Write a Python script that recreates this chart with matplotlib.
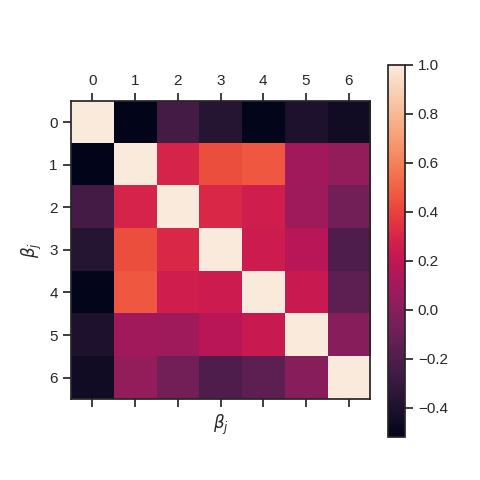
import numpy as np
import matplotlib
matplotlib.use("Agg")
import matplotlib.pyplot as plt
import seaborn as sns

sns.set_theme(style="ticks")
plt.rcParams["font.family"] = ["Liberation Sans", "DejaVu Sans"]

labels = ["0", "1", "2", "3", "4", "5", "6"]
row0 = [1.00, -0.52, -0.25, -0.37, -0.51, -0.40, -0.45]
row1 = [-0.52, 1.00, 0.29, 0.44, 0.47, 0.09, 0.04]
row2 = [-0.25, 0.29, 1.00, 0.31, 0.26, 0.08, -0.07]
row3 = [-0.37, 0.44, 0.31, 1.00, 0.25, 0.17, -0.20]
row4 = [-0.51, 0.47, 0.26, 0.25, 1.00, 0.23, -0.15]
row5 = [-0.40, 0.09, 0.08, 0.17, 0.23, 1.00, 0.00]
row6 = [-0.45, 0.04, -0.07, -0.20, -0.15, 0.00, 1.00]

corr = np.array([row0, row1, row2, row3, row4, row5, row6])

fig = plt.figure(figsize=(4.8, 4.8), dpi=100)
ax = fig.add_axes([0.148, 0.169, 0.623, 0.621])
cax = fig.add_axes([0.808, 0.0896, 0.035, 0.775])

im = ax.matshow(corr, cmap="rocket", aspect="auto")
ax.set_xticks(range(len(labels)))
ax.set_xticklabels(labels)
ax.set_yticks(range(len(labels)))
ax.set_yticklabels(labels)
ax.tick_params(axis="x", top=True, bottom=True, labeltop=True, labelbottom=False)
ax.set_xlabel(r"$\beta_j$")
ax.xaxis.set_label_position("bottom")
ax.set_ylabel(r"$\beta_j$")

cb = fig.colorbar(im, cax=cax)
cb.set_ticks([-0.4, -0.2, 0.0, 0.2, 0.4, 0.6, 0.8, 1.0])

fig.savefig("out.png", dpi=100)
